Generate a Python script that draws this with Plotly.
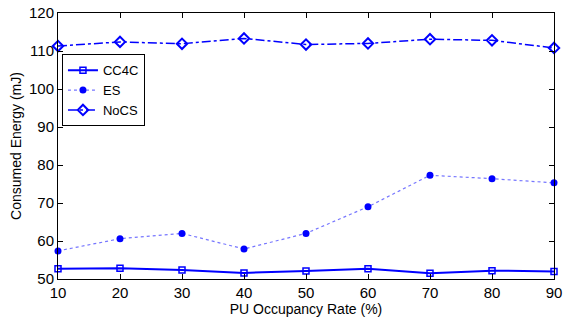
import plotly.graph_objects as go

occupancy = [10, 20, 30, 40, 50, 60, 70, 80, 90]
cc4c = [52.7, 52.8, 52.4, 51.6, 52.1, 52.7, 51.5, 52.2, 52.0]
es = [57.4, 60.6, 62.0, 57.9, 62.0, 69.0, 77.3, 76.4, 75.3]
nocs = [111.3, 112.4, 111.9, 113.3, 111.7, 112.0, 113.1, 112.8, 110.8]

x_ticks = [10, 20, 30, 40, 50, 60, 70, 80, 90]
y_ticks = [50, 60, 70, 80, 90, 100, 110, 120]

blue = "#0000ff"
font_family = "Liberation Sans, Arial, Helvetica"
fig = go.Figure()
fig.add_trace(go.Scatter(x=occupancy, y=cc4c, name="CC4C", mode="lines+markers",
                         line=dict(color=blue, width=2),
                         marker=dict(symbol="square-open", size=6, color=blue, line=dict(width=1.5)),
                         cliponaxis=False))
fig.add_trace(go.Scatter(x=occupancy, y=es, name="ES", mode="lines+markers",
                         line=dict(color="rgba(60,60,255,0.7)", width=1.2, dash="dot"),
                         marker=dict(symbol="circle", size=7, color=blue),
                         cliponaxis=False))
fig.add_trace(go.Scatter(x=occupancy, y=nocs, name="NoCS", mode="lines+markers",
                         line=dict(color=blue, width=1.5, dash="dashdot"),
                         marker=dict(symbol="diamond-open", size=8, color=blue, line=dict(width=2)),
                         cliponaxis=False))

axis_common = dict(showline=True, linecolor="black", linewidth=1, mirror="ticks",
                   ticks="inside", ticklen=5, tickcolor="black", showgrid=False, zeroline=False,
                   automargin=False,
                   tickfont=dict(family=font_family, size=15, color="black"))
fig.update_xaxes(range=[10, 90], tickvals=x_ticks,
                 title=dict(text="PU Occupancy Rate (%)", font=dict(family=font_family, size=14, color="black"), standoff=2),
                 **axis_common)
fig.update_yaxes(range=[50, 120], tickvals=y_ticks,
                 title=dict(text="Consumed Energy (mJ)", font=dict(family=font_family, size=14, color="black"), standoff=4),
                 **axis_common)
fig.update_layout(width=573, height=320, margin=dict(l=58, r=19, t=13, b=41, autoexpand=False),
                  plot_bgcolor="white", paper_bgcolor="white",
                  legend=dict(x=0.008, y=0.845, xanchor="left", yanchor="top",
                              bordercolor="black", borderwidth=1, bgcolor="white",
                              font=dict(family=font_family, size=13, color="black"),
                              tracegroupgap=0, itemwidth=30),
                  showlegend=True)
fig.write_html("out.html", config={"displayModeBar": False})

with open("out.html", "r", encoding="utf-8") as f:
    html = f.read()
html = html.replace("<head>", "<head><style>html,body{margin:0;padding:0;overflow:hidden;}</style>", 1)
with open("out.html", "w", encoding="utf-8") as f:
    f.write(html)
